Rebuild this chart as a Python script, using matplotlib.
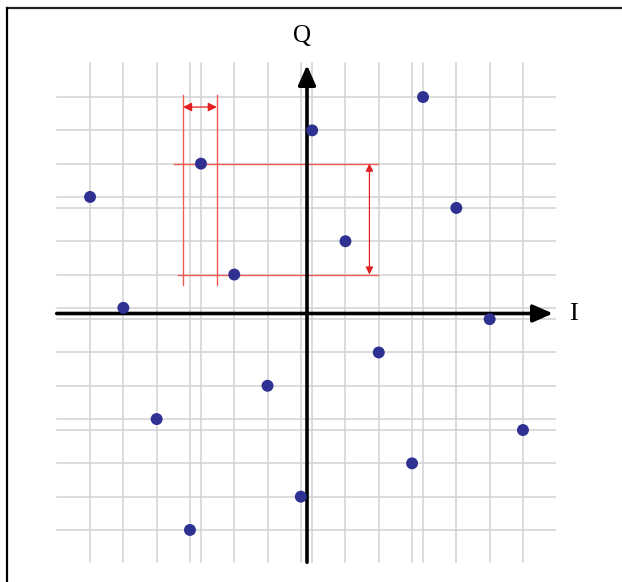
import matplotlib
matplotlib.use("Agg")
import matplotlib.pyplot as plt
from matplotlib.lines import Line2D

# Constellation points (I, Q)
I_vals = [-6.5, -5.5, -4.5, -3.5, -3.17, -2.17, -1.17, -0.17,
          0.17, 1.17, 2.17, 3.17, 3.5, 4.5, 5.5, 6.5]
Q_vals = [3.5, 0.17, -3.17, -6.5, 4.5, 1.17, -2.17, -5.5,
          5.5, 2.17, -1.17, -4.5, 6.5, 3.17, -0.17, -3.5]
axis_labels = ["I", "Q"]

W, H = 622, 582
U = 33.3
ox, oy = 306.5, 313.5

fig = plt.figure(figsize=(W / 100, H / 100), dpi=100)
ax = fig.add_axes([0, 0, 1, 1])
ax.set_xlim(-ox / U, (W - ox) / U)
ax.set_ylim(-(H - oy) / U, oy / U)
ax.axis("off")

grid_c = "#d2d2d2"
for x in I_vals:
    ax.plot([x, x], [-7.47, 7.52], color=grid_c, lw=1.1, zorder=1)
for y in Q_vals:
    ax.plot([-7.49, 7.46], [y, y], color=grid_c, lw=1.1, zorder=1)

# red measurement lines
red = "#f05a55"
ax.plot([-3.98, 2.15], [4.5, 4.5], color=red, lw=1.0, zorder=2)
ax.plot([-3.86, 2.15], [1.17, 1.17], color=red, lw=1.0, zorder=2)
ax.plot([-3.71, -3.71], [0.86, 6.56], color=red, lw=1.0, zorder=2)
ax.plot([-2.69, -2.69], [0.86, 6.56], color=red, lw=1.0, zorder=2)
ax.annotate("", xy=(-3.71, 6.2), xytext=(-2.69, 6.2),
            arrowprops=dict(arrowstyle="<|-|>", color="#e02020", lw=0.9,
                            mutation_scale=13, shrinkA=0, shrinkB=0), zorder=3)
ax.annotate("", xy=(1.89, 4.5), xytext=(1.89, 1.17),
            arrowprops=dict(arrowstyle="<|-|>", color="#e02020", lw=0.9,
                            mutation_scale=11, shrinkA=0, shrinkB=0), zorder=3)

# axes arrows
ax.annotate("", xy=(7.4, 0), xytext=(-7.5, 0),
            arrowprops=dict(arrowstyle="-|>,head_length=0.5,head_width=0.22",
                            color="black", lw=2.6,
                            mutation_scale=24, shrinkA=0, shrinkB=0), zorder=4)
ax.annotate("", xy=(0.015, 7.46), xytext=(0.015, -7.47),
            arrowprops=dict(arrowstyle="-|>,head_length=0.5,head_width=0.22",
                            color="black", lw=2.6,
                            mutation_scale=24, shrinkA=0, shrinkB=0), zorder=4)

ax.scatter(I_vals, Q_vals, s=74, color="#2f3192", zorder=5, edgecolors="none")

ax.text((573 - ox) / U, (oy - 314) / U, axis_labels[0], fontsize=19,
        family="Liberation Serif", ha="center", va="center")
ax.text((302 - ox) / U, (oy - 36) / U, axis_labels[1], fontsize=18,
        family="Liberation Serif", ha="center", va="center")

# frame (top and left)
fig.add_artist(Line2D([7 / W, 1], [1 - 8 / H, 1 - 8 / H], color="#222222", lw=1.6))
fig.add_artist(Line2D([7 / W, 7 / W], [0, 1 - 8 / H], color="black", lw=1.6))

fig.savefig("out.png", dpi=100)
